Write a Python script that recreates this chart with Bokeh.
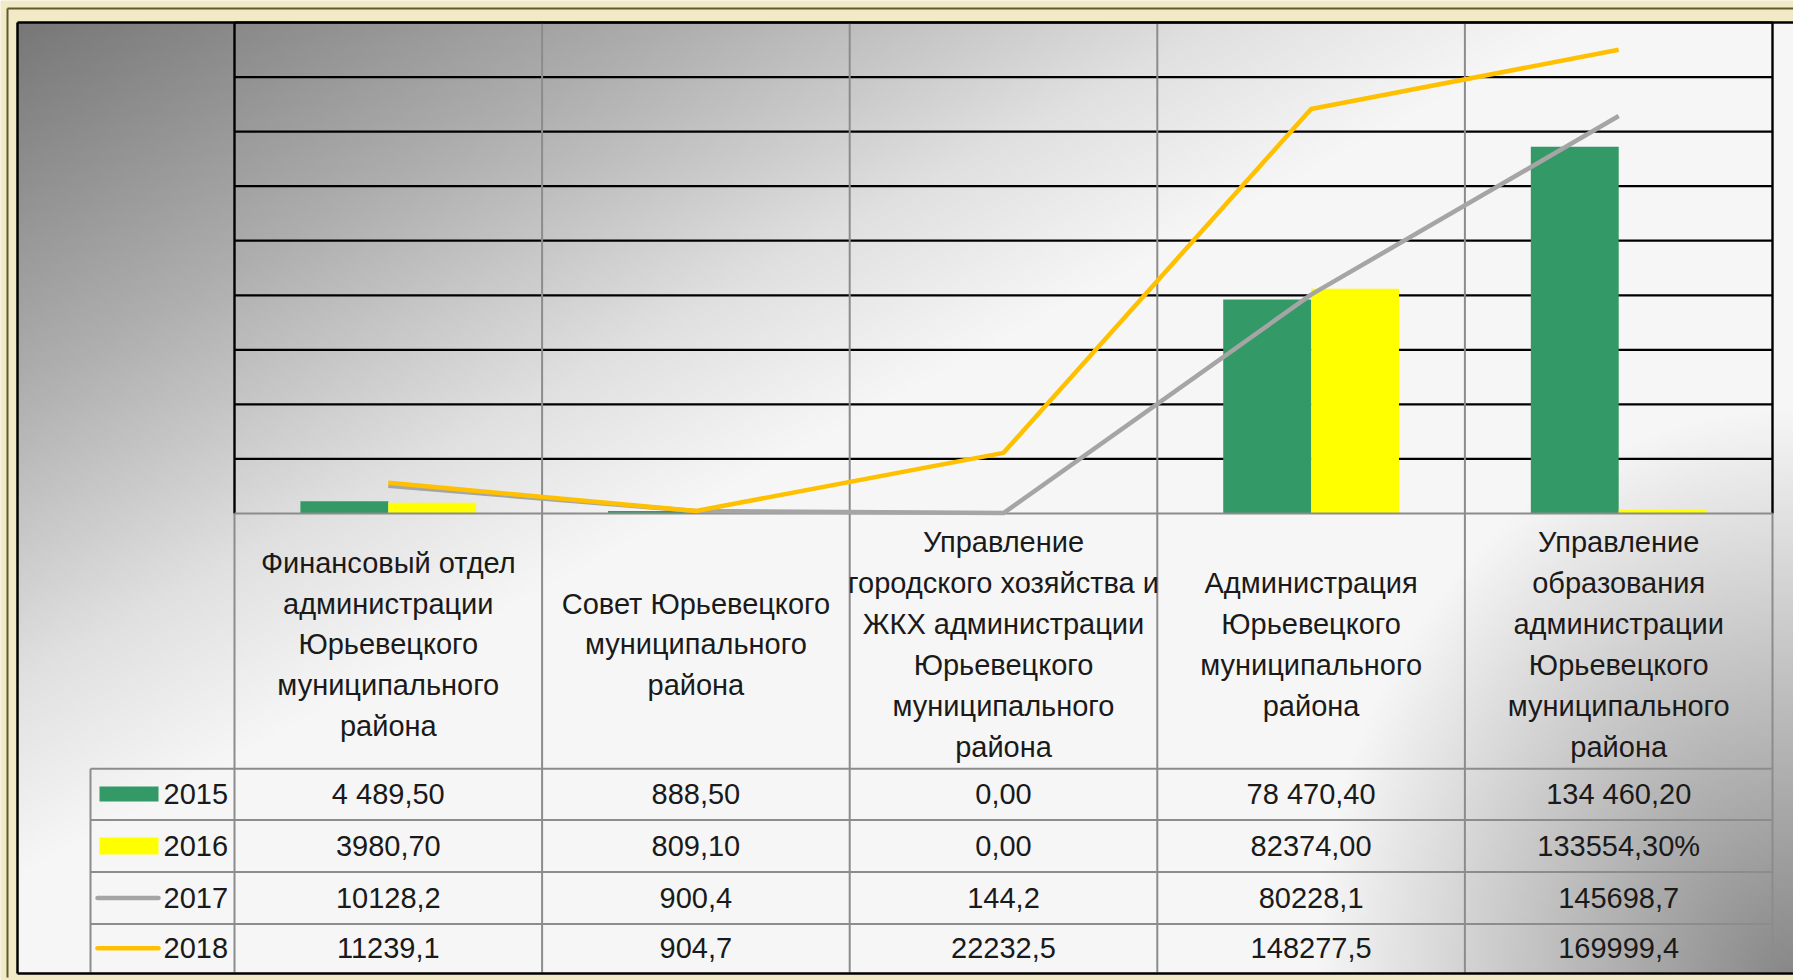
import numpy as np
from bokeh.plotting import figure
from bokeh.models import Range1d
from bokeh.core.properties import value
from bokeh.embed import file_html
from bokeh.resources import INLINE

# ---------------- data ----------------
categories = [
    "Финансовый отдел\nадминистрации\nЮрьевецкого\nмуниципального\nрайона",
    "Совет Юрьевецкого\nмуниципального\nрайона",
    "Управление\nгородского хозяйства и\nЖКХ администрации\nЮрьевецкого\nмуниципального\nрайона",
    "Администрация\nЮрьевецкого\nмуниципального\nрайона",
    "Управление\nобразования\nадминистрации\nЮрьевецкого\nмуниципального\nрайона",
]
years = ["2015", "2016", "2017", "2018"]

v2015 = [4489.5, 888.5, 0.0, 78470.4, 134460.2]
v2016 = [3980.7, 809.1, 0.0, 82374.0, 1335.543]   # "133554,30%" as plotted
v2017 = [10128.2, 900.4, 144.2, 80228.1, 145698.7]
v2018 = [11239.1, 904.7, 22232.5, 148277.5, 169999.4]

t2015 = ["4 489,50", "888,50", "0,00", "78 470,40", "134 460,20"]
t2016 = ["3980,70", "809,10", "0,00", "82374,00", "133554,30%"]
t2017 = ["10128,2", "900,4", "144,2", "80228,1", "145698,7"]
t2018 = ["11239,1", "904,7", "22232,5", "148277,5", "169999,4"]

y_ticks = [0, 20000, 40000, 60000, 80000, 100000, 120000, 140000, 160000, 180000]

colors = {"2015": "#339966", "2016": "#FFFF00", "2017": "#A5A5A5", "2018": "#FFC000"}

# ---------------- layout (reference pixel frame) ----------------
W, H = 1793, 980
OFF = 0
PL, PR, PT, PB = 234.0, 1772.0, 22.0, 513.0
NCAT = len(categories)
CW = (PR - PL) / NCAT
YMAX = y_ticks[-1]
K = YMAX / (PB - PT)


def X(px):
    return (px - PL) / CW


def Y(py):
    return (PB - py) * K


FONT = value("Liberation Sans")
FS = "29px"
TXT = "#1a1a1a"
BEIGE = "#F2EAC6"

p = figure(width=W, height=H, x_range=Range1d(X(OFF), X(OFF + W)),
           y_range=Range1d(Y(OFF + H), Y(OFF)), output_backend="svg",
           toolbar_location=None, min_border=0,
           x_axis_location=None, y_axis_location=None)
p.grid.visible = False
p.outline_line_color = None
p.background_fill_color = BEIGE
p.border_fill_color = BEIGE

# background gradient of the chart area (dark top-left, white band, dark bottom-right)
gx0, gx1, gy0, gy1 = 17.0, float(OFF + W), 22.0, 972.0
nx, ny = int((gx1 - gx0) // 4), int((gy1 - gy0) // 4)
xs = np.linspace(gx0, gx1, nx)
ys = np.linspace(gy1, gy0, ny)
XX, YY = np.meshgrid(xs, ys)
tt = 0.5 * XX / 1793 + 0.5 * YY / 980
g1 = np.interp(tt, [0, 0.2, 0.35, 0.45, 1.0], [115, 174, 224, 246, 246])
rr = np.hypot((1793 - XX) / 500.0, (980 - YY) / 600.0)
g2 = np.interp(rr, [0.0, 0.95, 10.0], [135, 246, 246])
g = np.minimum(g1, g2).astype(np.uint8)
img = np.empty((ny, nx), dtype=np.uint32)
view = img.view(dtype=np.uint8).reshape((ny, nx, 4))
view[..., 0] = g
view[..., 1] = g
view[..., 2] = g
view[..., 3] = 255
p.image_rgba(image=[img], x=X(gx0), y=Y(gy1), dw=X(gx1) - X(gx0), dh=Y(gy0) - Y(gy1))

# olive outer frame lines
p.segment(x0=[X(7), X(7)], y0=[Y(8), Y(8)],
          x1=[X(OFF + W), X(7)], y1=[Y(8), Y(977)],
          line_color="#5E5A2A", line_width=2)

# horizontal gridlines
grid_vals = y_ticks[1:]
p.segment(x0=[X(PL)] * len(grid_vals), x1=[X(PR)] * len(grid_vals),
          y0=grid_vals, y1=grid_vals, line_color="#000000", line_width=2.2)

# category dividers (plot + table)
idx = np.arange(NCAT) + 0.5
divs = list(range(1, NCAT))
p.segment(x0=divs, x1=divs, y0=[Y(PT)] * len(divs), y1=[Y(972)] * len(divs),
          line_color="#8C8C8C", line_width=2)
p.segment(x0=[0, NCAT], x1=[0, NCAT], y0=[Y(PB)] * 2, y1=[Y(972)] * 2,
          line_color="#8C8C8C", line_width=2)

# table row lines
rows_y = [768.3, 819.5, 871.5, 923.5]
p.segment(x0=[X(90)] * len(rows_y), x1=[X(PR)] * len(rows_y),
          y0=[Y(r) for r in rows_y], y1=[Y(r) for r in rows_y],
          line_color="#8C8C8C", line_width=2)
p.segment(x0=[X(90)], x1=[X(90)], y0=[Y(768.3)], y1=[Y(972)],
          line_color="#8C8C8C", line_width=2)

# bars
bw = 1 / 3.5
p.vbar(x=idx - bw / 2, top=v2015, bottom=0, width=bw, fill_color=colors["2015"], line_color=None)
p.vbar(x=idx + bw / 2, top=v2016, bottom=0, width=bw, fill_color=colors["2016"], line_color=None)

# plot border + category axis line
p.segment(x0=[X(PL), X(PR)], x1=[X(PL), X(PR)], y0=[Y(PB)] * 2, y1=[Y(PT)] * 2,
          line_color="#000000", line_width=2.4)
p.segment(x0=[X(PL)], x1=[X(PR)], y0=[0], y1=[0], line_color="#8C8C8C", line_width=2.2)

# lines
p.line(idx, v2017, line_color=colors["2017"], line_width=4.5, line_join="round")
p.line(idx, v2018, line_color=colors["2018"], line_width=4.5, line_join="round")

# chart area border
p.segment(x0=[X(17), X(17), X(17)], y0=[Y(22), Y(22), Y(973)],
          x1=[X(17), X(OFF + W), X(OFF + W)], y1=[Y(973), Y(22), Y(973)],
          line_color="#000000", line_width=2.5)

# category labels
p.text(x=idx, y=[Y(644)] * NCAT, text=categories, text_align="center",
       text_baseline="middle", text_font=FONT, text_font_size=FS,
       text_line_height=1.28, text_color=TXT)

# data table
row_c = [(768.3 + 819.5) / 2, (819.5 + 871.5) / 2, (871.5 + 923.5) / 2, (923.5 + 972) / 2]
for rc, labels in zip(row_c, [t2015, t2016, t2017, t2018]):
    p.text(x=idx, y=[Y(rc)] * NCAT, text=labels, text_align="center",
           text_baseline="middle", text_font=FONT, text_font_size=FS, text_color=TXT)

# legend keys in table
p.quad(left=[X(99)] * 2, right=[X(158)] * 2, top=[Y(786), Y(837)], bottom=[Y(801), Y(854)],
       fill_color=[colors["2015"], colors["2016"]], line_color=None)
p.segment(x0=[X(97)] * 2, x1=[X(158)] * 2, y0=[Y(row_c[2]), Y(row_c[3])],
          y1=[Y(row_c[2]), Y(row_c[3])], line_color=[colors["2017"], colors["2018"]],
          line_width=4.5, line_cap="round")
p.text(x=[X(163)] * 4, y=[Y(r) for r in row_c], text=years, text_align="left",
       text_baseline="middle", text_font=FONT, text_font_size=FS, text_color=TXT)

open("out.html", "w").write(file_html(p, INLINE))
